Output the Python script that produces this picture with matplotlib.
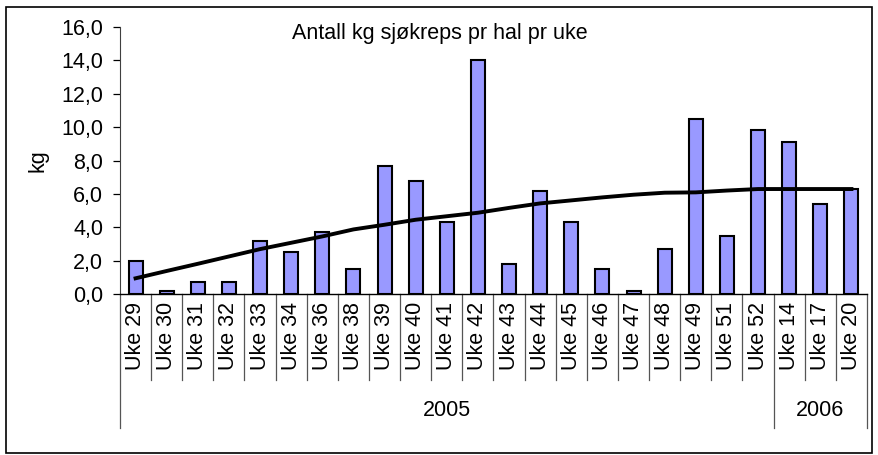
import matplotlib
matplotlib.use('Agg')
import matplotlib.transforms as mtransforms
from matplotlib import pyplot as plt
from matplotlib.patches import Rectangle

WEEKS_2005 = ['Uke 29', 'Uke 30', 'Uke 31', 'Uke 32', 'Uke 33', 'Uke 34', 'Uke 36',
              'Uke 38', 'Uke 39', 'Uke 40', 'Uke 41', 'Uke 42', 'Uke 43', 'Uke 44',
              'Uke 45', 'Uke 46', 'Uke 47', 'Uke 48', 'Uke 49', 'Uke 51', 'Uke 52']
WEEKS_2006 = ['Uke 14', 'Uke 17', 'Uke 20']
KG_2005 = [2.0, 0.2, 0.7, 0.7, 3.2, 2.5, 3.7, 1.5, 7.7, 6.8, 4.3, 14.0, 1.8, 6.2,
           4.3, 1.5, 0.2, 2.7, 10.5, 3.5, 9.8]
KG_2006 = [9.1, 5.4, 6.3]
# trendline, one value per week
TREND = [0.94, 1.38, 1.81, 2.25, 2.69, 3.07, 3.45, 3.87, 4.15, 4.45, 4.66, 4.87,
         5.16, 5.43, 5.61, 5.79, 5.95, 6.07, 6.09, 6.2, 6.29, 6.29, 6.29, 6.29]
YEARS = ['2005', '2006']

W, H = 879, 455
FS = 15.5


def draw():
    plt.rcParams['font.family'] = ['Liberation Sans', 'DejaVu Sans']
    weeks = WEEKS_2005 + WEEKS_2006
    kg = KG_2005 + KG_2006
    x = list(range(len(weeks)))

    fig = plt.figure(figsize=(W / 100, H / 100), dpi=100)
    ax = fig.add_axes([120 / W, 1 - 294 / H, 747 / W, 267 / H])

    ax.bar(x, kg, width=0.45, color='#9999ff', edgecolor='black',
           linewidth=1.5, zorder=2)
    ax.plot(x, TREND, color='black', linewidth=2.8, zorder=3)

    ax.set_xlim(-0.5, len(weeks) - 0.5)
    ax.set_ylim(0, 16)
    yt = list(range(0, 17, 2))
    ax.set_yticks(yt)
    ax.set_yticklabels([f'{v:.1f}'.replace('.', ',') for v in yt])
    ax.tick_params(axis='y', direction='out', length=5, width=0.9,
                   pad=7, labelsize=FS)
    ax.set_xticks([])
    for side in ('top', 'right'):
        ax.spines[side].set_visible(False)
    ax.spines['left'].set_color('#404040')
    ax.spines['bottom'].set_color('black')
    ax.spines['bottom'].set_linewidth(1.0)

    ax.set_ylabel('kg', fontsize=FS)
    ax.yaxis.set_label_coords((48 - 120) / 747, 0.5)

    ax.text((440 - 120) / 747, (294 - 33) / 267, 'Antall kg sjøkreps pr hal pr uke',
            transform=ax.transAxes, ha='center', va='center', fontsize=FS)

    # two level category axis
    trans = mtransforms.blended_transform_factory(ax.transData, ax.transAxes)
    n05 = len(WEEKS_2005)
    group_edges = [0, n05, len(weeks)]
    short = -(380 - 294) / 267
    long = -(428 - 294) / 267
    for i in range(len(weeks) + 1):
        depth = long if i in group_edges else short
        ax.plot([i - 0.5, i - 0.5], [0, depth], transform=trans, clip_on=False,
                color='#555555', linewidth=0.9)
    for i, w in enumerate(weeks):
        ax.text(i, -(302 - 294) / 267, w, transform=trans, rotation=90,
                ha='center', va='top', fontsize=FS)
    for k, year in enumerate(YEARS):
        xc = (group_edges[k] + group_edges[k + 1] - 1) / 2
        ax.text(xc, -(411 - 294) / 267, year, transform=trans,
                ha='center', va='center', fontsize=FS)

    fig.patches.append(Rectangle((6 / W, 1 - 453 / H), 866 / W, 446 / H,
                                 transform=fig.transFigure, fill=False,
                                 edgecolor='black', linewidth=1.2))

    fig.savefig('out.png', dpi=100)


if __name__ == '__main__':
    draw()
